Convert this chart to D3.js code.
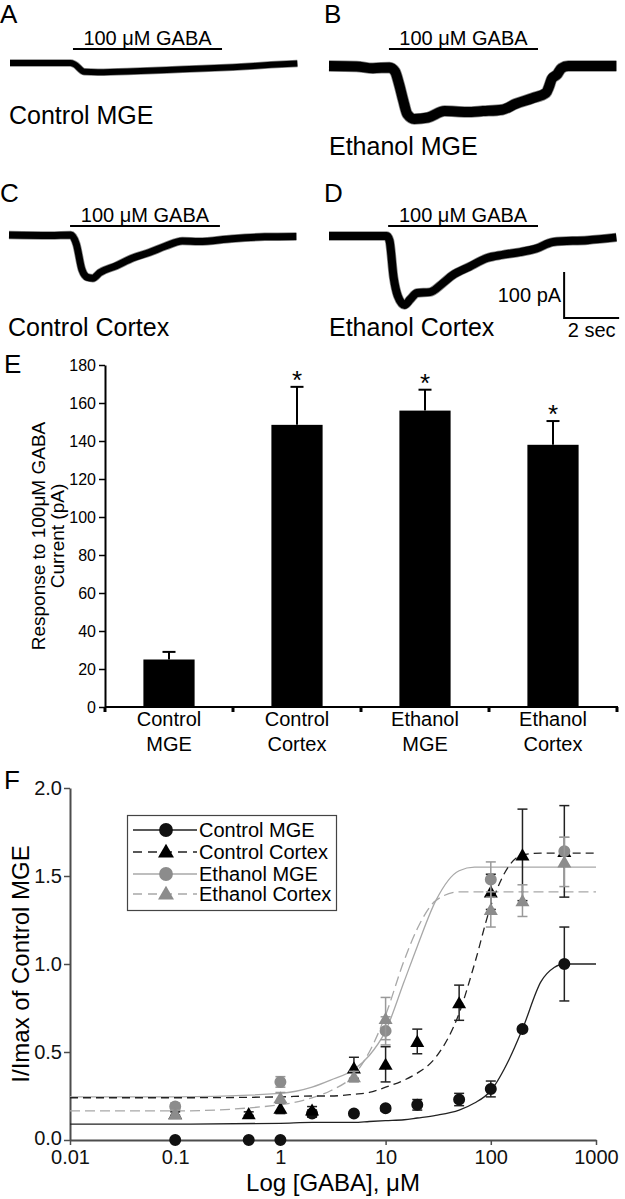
<!DOCTYPE html>
<html>
<head>
<meta charset="utf-8">
<title></title>
<script src="https://cdn.jsdelivr.net/npm/d3@7/dist/d3.min.js"></script>
<style>
body { margin: 0; background: #fff; }
text { font-family: "Liberation Sans", Arial, Helvetica, sans-serif; }
</style>
</head>
<body>
<script>
// ---- panels A-D : whole-cell traces (time in s, current in pA) ----
const traceLetters = ['A', 'B', 'C', 'D']
const traceNames = ['Control MGE', 'Ethanol MGE', 'Control Cortex', 'Ethanol Cortex']
const gabaLabel = '100 \u03bcM GABA'
const gabaOn = [[2.29, 7.71], [2.18, 7.6], [2.22, 7.67], [2.15, 7.6]]

const tA = [0, 2.2, 2.35, 2.7, 3.2, 4.5, 5.7, 7, 8.1, 9.5, 10.45]
const iA = [0, 0, -3, -19, -20, -18, -15, -12, -9, -4, -1]
const tB = [0, 1, 1.6, 2.2, 2.4, 2.55, 2.7, 2.85, 3.1, 3.6, 4.2, 5, 5.6, 6.3, 6.8, 7.4, 7.9, 8.0, 8.1, 8.3, 8.45, 8.7, 10.45]
const iB = [0, -1, -5, -3, -12, -40, -75, -105, -115, -112, -98, -100, -98, -95, -82, -70, -58, -45, -28, -18, -5, 0, 0]
const tC = [0, 1.5, 2.25, 2.45, 2.65, 2.85, 3.05, 3.3, 3.9, 4.5, 5.1, 5.7, 6.3, 6.9, 8.1, 9.3, 10.45]
const iC = [0, -1, 0, -20, -75, -92, -94, -82, -67, -50, -38, -24, -13, -14, -8, -4, -3]
const tD = [0, 2.1, 2.2, 2.35, 2.5, 2.75, 2.95, 3.2, 3.67, 4.15, 4.5, 5.1, 5.75, 6.3, 6.95, 7.55, 8.15, 9.4, 10.45]
const iD = [0, 0, -10, -90, -130, -150, -138, -124, -122, -102, -85, -67, -48, -41, -35, -27, -13, -9, -3]
const traceT = [tA, tB, tC, tD]
const traceI = [iA, iB, iC, iD]
const scaleBarI = 100   // pA
const scaleBarT = 2     // s

// ---- panel E : response to 100 uM GABA ----
const categories = ['Control MGE', 'Control Cortex', 'Ethanol MGE', 'Ethanol Cortex']
const currents = [25, 148.5, 156, 138]
const currentErr = [4, 20, 11, 12.5]
const signif = [false, true, true, true]
const yTicksE = [0, 20, 40, 60, 80, 100, 120, 140, 160, 180]

// ---- panel F : concentration-response ----
const xTicksF = [0.01, 0.1, 1, 10, 100, 1000]
const yTicksF = [0, 0.5, 1, 1.5, 2]
const seriesNames = ['Control MGE', 'Control Cortex', 'Ethanol MGE', 'Ethanol Cortex']
const cmgeConc = [0.1, 0.5, 1, 2, 5, 10, 20, 50, 100, 200, 500]
const cmgeVal = [0, 0, 0, 0.15, 0.15, 0.18, 0.2, 0.23, 0.29, 0.63, 1.0]
const cmgeErr = [0, 0, 0, 0.02, 0.01, 0.015, 0.03, 0.035, 0.045, 0.015, 0.21]
const cctxConc = [0.1, 0.5, 1, 2, 5, 10, 20, 50, 100, 200, 500]
const cctxVal = [0.15, 0.15, 0.18, 0.17, 0.41, 0.43, 0.56, 0.78, 1.41, 1.62, 1.64]
const cctxErr = [0.01, 0.01, 0.03, 0.02, 0.06, 0.1, 0.07, 0.1, 0.1, 0.26, 0.26]
const emgeConc = [0.1, 1, 10, 100, 500]
const emgeVal = [0.19, 0.33, 0.62, 1.48, 1.64]
const emgeErr = [0.02, 0.03, 0.08, 0.1, 0.08]
const ectxConc = [0.1, 1, 5, 10, 100, 200, 500]
const ectxVal = [0.15, 0.24, 0.36, 0.69, 1.31, 1.36, 1.58]
const ectxErr = [0.02, 0.03, 0.03, 0.12, 0.1, 0.09, 0.14]
// fitted curves
const fitConc = [0.01, 0.1, 1, 2, 3, 5, 7, 10, 15, 20, 30, 50, 70, 100, 150, 200, 300, 400, 500, 1000]
const cmgeFit = [0.09, 0.09, 0.095, 0.1, 0.1, 0.1, 0.105, 0.11, 0.115, 0.125, 0.14, 0.17, 0.21, 0.28, 0.46, 0.63, 0.9, 0.98, 1.0, 1.0]
const cctxFit = [0.24, 0.24, 0.245, 0.25, 0.25, 0.26, 0.27, 0.3, 0.34, 0.38, 0.47, 0.72, 1.0, 1.33, 1.56, 1.62, 1.63, 1.63, 1.63, 1.63]
const emgeFit = [0.245, 0.245, 0.265, 0.3, 0.34, 0.4, 0.48, 0.62, 0.9, 1.1, 1.36, 1.53, 1.55, 1.55, 1.55, 1.55, 1.55, 1.55, 1.55, 1.55]
const ectxFit = [0.165, 0.165, 0.2, 0.24, 0.28, 0.37, 0.5, 0.71, 1.02, 1.2, 1.36, 1.41, 1.41, 1.41, 1.41, 1.41, 1.41, 1.41, 1.41, 1.41]

const width = 625
const height = 1199
const svg = d3.select('body').append('svg')
    .attr('width', width)
    .attr('height', height)

// ================= traces =================
const tracePanels = [
  { x0: 10, y0: 63, name: [9, 124], letter: [0, 23], barY: 49, w: 6 },
  { x0: 329, y0: 66, name: [329, 155], letter: [324, 23], barY: 49, w: 10 },
  { x0: 9, y0: 235, name: [8, 336], letter: [0, 202], barY: 226, w: 7 },
  { x0: 329, y0: 236, name: [329, 336], letter: [324, 202], barY: 226, w: 8 }
]
const pxPerSec = 27.5
const pxPerPA = 0.46

tracePanels.forEach((p, k) => {
  const g = svg.append('g')
  const xt = d3.scaleLinear().domain([0, 1]).range([p.x0, p.x0 + pxPerSec])
  const yt = d3.scaleLinear().domain([0, -1]).range([p.y0, p.y0 + pxPerPA])
  const pts = traceT[k].map((t, i) => [t, traceI[k][i]])
  const line = d3.line().x(d => xt(d[0])).y(d => yt(d[1])).curve(d3.curveMonotoneX)

  g.append('path').attr('d', line(pts))
    .attr('fill', 'none').attr('stroke', '#888').attr('stroke-width', p.w + 1.5)
    .attr('stroke-linejoin', 'round')
  g.append('path').attr('d', line(pts))
    .attr('fill', 'none').attr('stroke', '#000').attr('stroke-width', p.w)
    .attr('stroke-linejoin', 'round')

  // GABA application bar
  g.append('line')
    .attr('x1', xt(gabaOn[k][0])).attr('x2', xt(gabaOn[k][1]))
    .attr('y1', p.barY).attr('y2', p.barY)
    .attr('stroke', '#000').attr('stroke-width', 2)
  g.append('text')
    .attr('x', (xt(gabaOn[k][0]) + xt(gabaOn[k][1])) / 2).attr('y', p.barY - 4)
    .attr('text-anchor', 'middle').attr('font-size', 20)
    .text(gabaLabel)

  g.append('text').attr('x', p.name[0]).attr('y', p.name[1])
    .attr('font-size', 25).text(traceNames[k])
  g.append('text').attr('x', p.letter[0]).attr('y', p.letter[1])
    .attr('font-size', 26).text(traceLetters[k])

  // scale bar in D (corner 178 pA below baseline, 8.55 s in)
  if (k === 3) {
    const sx = xt(8.55), sy = yt(-178)
    const sb = d3.path()
    sb.moveTo(sx, yt(-178 + scaleBarI))
    sb.lineTo(sx, sy)
    sb.lineTo(xt(8.55 + scaleBarT), sy)
    g.append('path').attr('d', sb.toString())
      .attr('fill', 'none').attr('stroke', '#000').attr('stroke-width', 2)
    g.append('text').attr('x', sx - 3).attr('y', sy - 16)
      .attr('text-anchor', 'end').attr('font-size', 20).text(scaleBarI + ' pA')
    g.append('text').attr('x', xt(8.55 + scaleBarT / 2)).attr('y', sy + 19)
      .attr('text-anchor', 'middle').attr('font-size', 20).text(scaleBarT + ' sec')
  }
})

// ================= panel E =================
const gE = svg.append('g')
const xE = d3.scaleBand()
    .domain(categories)
    .range([105, 617])
    .paddingInner(0.6)
    .paddingOuter(0.3)
const yE = d3.scaleLinear()
    .domain([0, 180])
    .range([707, 365])

gE.append('text').attr('x', 4).attr('y', 373).attr('font-size', 26).text('E')

// bars
gE.selectAll('rect.bar').data(categories).enter().append('rect')
    .attr('x', d => xE(d))
    .attr('y', (d, i) => yE(currents[i]))
    .attr('width', xE.bandwidth())
    .attr('height', (d, i) => yE(0) - yE(currents[i]))
    .attr('fill', '#000')

// error bars (upper only)
categories.forEach((c, i) => {
  const cx = xE(c) + xE.bandwidth() / 2
  const top = yE(currents[i] + currentErr[i])
  gE.append('line').attr('x1', cx).attr('x2', cx)
    .attr('y1', yE(currents[i])).attr('y2', top)
    .attr('stroke', '#000').attr('stroke-width', 2)
  gE.append('line').attr('x1', cx - 6.5).attr('x2', cx + 6.5)
    .attr('y1', top).attr('y2', top)
    .attr('stroke', '#000').attr('stroke-width', 2)
  if (signif[i]) {
    gE.append('text').attr('x', cx).attr('y', top + 2)
      .attr('text-anchor', 'middle').attr('font-size', 26).text('*')
  }
})

// y axis
const axE = gE.append('g')
    .attr('transform', 'translate(105,0)')
    .call(d3.axisLeft(yE).tickValues(yTicksE).tickSize(6).tickPadding(3).tickSizeOuter(0))
axE.select('.domain').attr('stroke-width', 2)
axE.selectAll('.tick line').attr('stroke-width', 1.5)
axE.selectAll('.tick text').attr('font-size', 16).attr('font-family', null)

// x axis with ticks at the band edges
const edges = categories.map(c => xE(c) - (xE.step() - xE.bandwidth()) / 2)
edges.push(edges[edges.length - 1] + xE.step())
gE.append('line').attr('x1', 105).attr('x2', edges[edges.length - 1] + 1)
    .attr('y1', yE(0)).attr('y2', yE(0))
    .attr('stroke', '#000').attr('stroke-width', 2)
edges.forEach(e => {
  gE.append('line').attr('x1', e).attr('x2', e)
    .attr('y1', yE(0)).attr('y2', yE(0) + 5)
    .attr('stroke', '#000').attr('stroke-width', 3)
})
categories.forEach(c => {
  const words = c.split(' ')
  const t = gE.append('text')
    .attr('x', xE(c) + xE.bandwidth() / 2).attr('y', 726)
    .attr('text-anchor', 'middle').attr('font-size', 20)
  words.forEach((w, j) => {
    t.append('tspan').attr('x', xE(c) + xE.bandwidth() / 2)
      .attr('dy', j === 0 ? 0 : 25).text(w)
  })
})

// y label
const yLabE = gE.append('text')
    .attr('transform', 'translate(45,536) rotate(-90)')
    .attr('text-anchor', 'middle').attr('font-size', 19)
yLabE.append('tspan').attr('x', 0).attr('dy', 0).text('Response to 100\u03bcM GABA')
yLabE.append('tspan').attr('x', 0).attr('dy', 19).text('Current (pA)')

// ================= panel F =================
const gF = svg.append('g')
const xF = d3.scaleLog().domain([0.01, 1000]).range([70, 596])
const yF = d3.scaleLinear().domain([0, 2]).range([1140, 788])
const axisColor = '#4d4d4d'

gF.append('text').attr('x', 4).attr('y', 789).attr('font-size', 26).text('F')

const axFy = gF.append('g').attr('transform', 'translate(70,0)')
    .call(d3.axisLeft(yF).tickValues(yTicksF).tickFormat(d3.format('.1f')).tickSize(6).tickPadding(2).tickSizeOuter(0))
const axFx = gF.append('g').attr('transform', 'translate(0,1140)')
    .call(d3.axisBottom(xF).tickValues(xTicksF).tickFormat(d => String(d)).tickSize(5).tickPadding(5).tickSizeOuter(0))
;[axFy, axFx].forEach(a => {
  a.select('.domain').attr('stroke', axisColor).attr('stroke-width', 2)
  a.selectAll('.tick line').attr('stroke', axisColor).attr('stroke-width', 1.5)
  a.selectAll('.tick text').attr('font-size', 20).attr('font-family', null).attr('fill', '#111')
})
// keep "0.0" clear of "0.01"
axFy.selectAll('.tick text').attr('dy', (d, i) => d === 0 ? '0.2em' : '0.32em')

gF.append('text').attr('x', 333).attr('y', 1191)
    .attr('text-anchor', 'middle').attr('font-size', 24).text('Log [GABA], \u03bcM')
gF.append('text').attr('transform', 'translate(29,964) rotate(-90)')
    .attr('text-anchor', 'middle').attr('font-size', 24).text('I/Imax of Control MGE')

const series = [
  { conc: cmgeConc, val: cmgeVal, err: cmgeErr, fit: cmgeFit, color: '#111', lineColor: '#222', errColor: '#222', dash: null, shape: 'circle' },
  { conc: cctxConc, val: cctxVal, err: cctxErr, fit: cctxFit, color: '#000', lineColor: '#222', errColor: '#222', dash: '8,5', shape: 'triangle' },
  { conc: emgeConc, val: emgeVal, err: emgeErr, fit: emgeFit, color: '#8c8c8c', lineColor: '#a8a8a8', errColor: '#999', dash: null, shape: 'circle' },
  { conc: ectxConc, val: ectxVal, err: ectxErr, fit: ectxFit, color: '#8c8c8c', lineColor: '#a8a8a8', errColor: '#999', dash: '10,5', shape: 'triangle' }
]
const symCircle = d3.symbol(d3.symbolCircle, 113)
const symTri = d3.symbol(d3.symbolTriangle, 85)

const fitLine = d3.line()
    .x(d => xF(d[0]))
    .y(d => yF(d[1]))
    .curve(d3.curveMonotoneX)

// fitted curves
series.slice().reverse().forEach(s => {
  gF.append('path')
      .attr('d', fitLine(fitConc.map((c, i) => [c, s.fit[i]])))
      .attr('fill', 'none')
      .attr('stroke', s.lineColor)
      .attr('stroke-width', 1.3)
      .attr('stroke-dasharray', s.dash)
})

// error bars + points
series.forEach(s => {
  s.conc.forEach((c, i) => {
    if (s.err[i] > 0) {
      const x = xF(c)
      const y1 = yF(s.val[i] - s.err[i]), y2 = yF(s.val[i] + s.err[i])
      gF.append('line').attr('x1', x).attr('x2', x).attr('y1', y1).attr('y2', y2)
        .attr('stroke', s.errColor).attr('stroke-width', 1.5)
      ;[y1, y2].forEach(y => {
        gF.append('line').attr('x1', x - 5).attr('x2', x + 5).attr('y1', y).attr('y2', y)
          .attr('stroke', s.errColor).attr('stroke-width', 1.5)
      })
    }
  })
  gF.selectAll(null).data(s.conc).enter().append('path')
      .attr('d', s.shape === 'circle' ? symCircle() : symTri())
      .attr('transform', (c, i) => `translate(${xF(c)},${yF(s.val[i]) + (s.shape === 'circle' ? 0 : 1.5)})`)
      .attr('fill', s.color)
})

// legend
const leg = gF.append('g')
leg.append('rect').attr('x', 127.5).attr('y', 815.5).attr('width', 209).attr('height', 95)
    .attr('fill', '#fff').attr('stroke', '#444').attr('stroke-width', 1.2)
const legY = [830, 852, 874, 894]
series.forEach((s, i) => {
  leg.append('line').attr('x1', 133).attr('x2', 197)
      .attr('y1', legY[i]).attr('y2', legY[i])
      .attr('stroke', s.lineColor).attr('stroke-width', 1.5)
      .attr('stroke-dasharray', s.dash ? '9,6' : null)
  leg.append('path')
      .attr('d', s.shape === 'circle' ? d3.symbol(d3.symbolCircle, 150)() : d3.symbol(d3.symbolTriangle, 110)())
      .attr('transform', `translate(166,${legY[i] + (s.shape === 'circle' ? 0 : 1)})`)
      .attr('fill', s.color)
  leg.append('text').attr('x', 199).attr('y', legY[i] + 7)
      .attr('font-size', 20).text(seriesNames[i])
})
</script>
</body>
</html>
